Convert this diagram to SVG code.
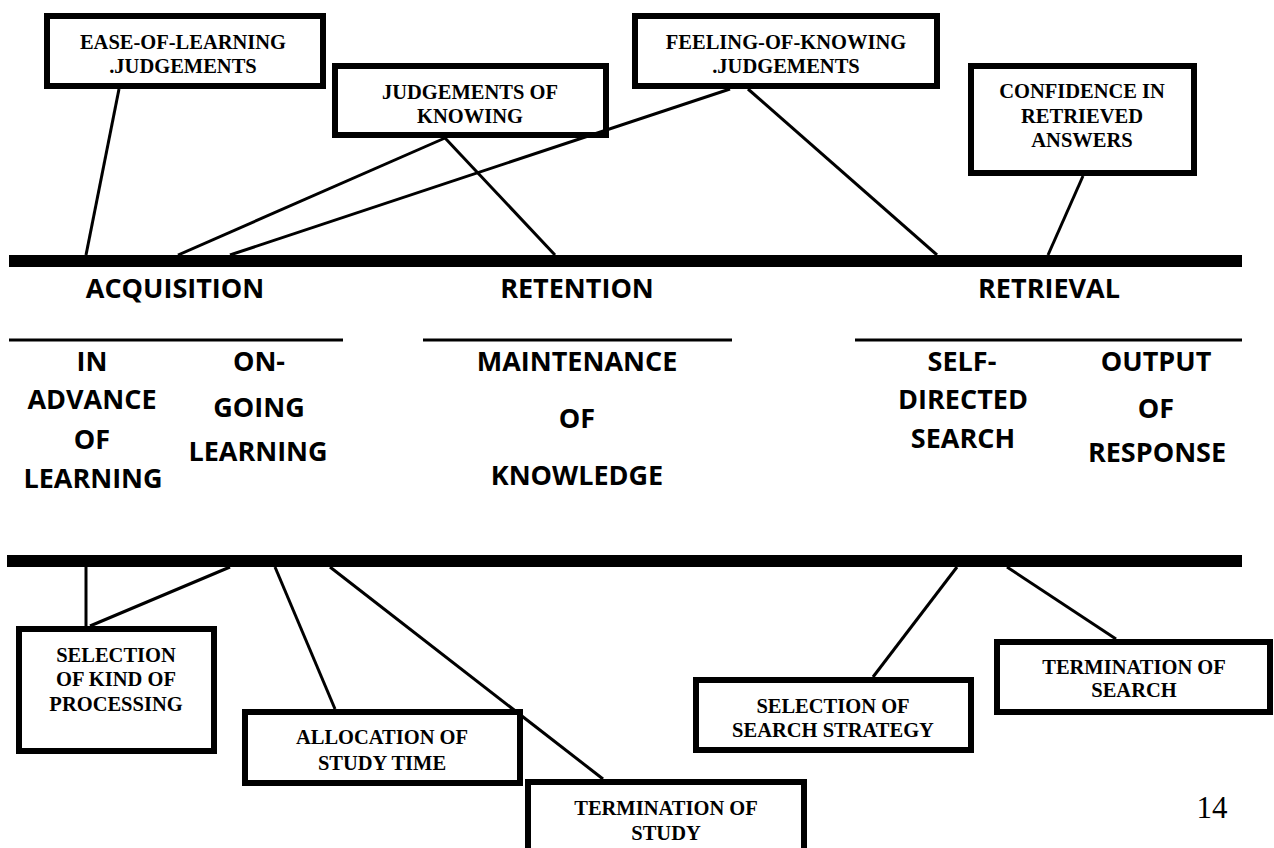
<svg xmlns="http://www.w3.org/2000/svg" width="1274" height="848" viewBox="0 0 1274 848">
<style>
.box{fill:#fff;stroke:#000;stroke-width:6}
.bt{font-family:"Liberation Serif","Times New Roman",serif;font-weight:700;font-size:20.5px;text-anchor:middle;fill:#000}
.lb{font-family:"Open Sans","Noto Sans",sans-serif;font-weight:700;font-size:27px;text-anchor:middle;fill:#000}
.c{stroke:#000;stroke-width:3;fill:none}
.thin{stroke:#000;stroke-width:3}
</style>
<rect width="1274" height="848" fill="#fff"/>
<g id="bars">
<rect x="9" y="255" width="1233" height="12" fill="#000"/>
<rect x="7" y="555" width="1235" height="12" fill="#000"/>
<line class="thin" x1="9" y1="340" x2="343" y2="340"/>
<line class="thin" x1="423" y1="340" x2="732" y2="340"/>
<line class="thin" x1="855" y1="340" x2="1242" y2="340"/>
</g>
<g id="labels">
<text class="lb" x="175" y="298">ACQUISITION</text>
<text class="lb" x="577" y="298">RETENTION</text>
<text class="lb" x="1049" y="298">RETRIEVAL</text>
<text class="lb" x="92" y="371">IN</text>
<text class="lb" x="92" y="409">ADVANCE</text>
<text class="lb" x="92" y="449">OF</text>
<text class="lb" x="93" y="488">LEARNING</text>
<text class="lb" x="259" y="371">ON-</text>
<text class="lb" x="259" y="417">GOING</text>
<text class="lb" x="258" y="461">LEARNING</text>
<text class="lb" x="577" y="371">MAINTENANCE</text>
<text class="lb" x="577" y="428">OF</text>
<text class="lb" x="577" y="485">KNOWLEDGE</text>
<text class="lb" x="962" y="371">SELF-</text>
<text class="lb" x="963" y="409">DIRECTED</text>
<text class="lb" x="963" y="448">SEARCH</text>
<text class="lb" x="1156" y="371">OUTPUT</text>
<text class="lb" x="1156" y="418">OF</text>
<text class="lb" x="1157" y="462">RESPONSE</text>
<text x="1212" y="818" font-family="Liberation Serif, Times New Roman, serif" font-size="31" text-anchor="middle">14</text>
</g>
<g id="n-ease">
<rect class="box" x="47" y="16" width="276" height="70"/>
<text class="bt" x="183" y="49">EASE-OF-LEARNING</text>
<text class="bt" x="183" y="73">.JUDGEMENTS</text>
</g>
<g id="n-jok">
<rect class="box" x="335" y="66" width="271" height="69"/>
<text class="bt" x="470" y="99">JUDGEMENTS OF</text>
<text class="bt" x="470" y="123">KNOWING</text>
</g>
<g id="n-fok">
<rect class="box" x="635" y="16" width="302" height="70"/>
<text class="bt" x="786" y="49">FEELING-OF-KNOWING</text>
<text class="bt" x="786" y="73">.JUDGEMENTS</text>
</g>
<g id="n-conf">
<rect class="box" x="971" y="66" width="223" height="107"/>
<text class="bt" x="1082" y="98">CONFIDENCE IN</text>
<text class="bt" x="1082" y="123">RETRIEVED</text>
<text class="bt" x="1082" y="147">ANSWERS</text>
</g>
<g id="n-kind">
<rect class="box" x="19" y="629" width="195" height="122"/>
<text class="bt" x="116" y="662">SELECTION</text>
<text class="bt" x="116" y="686">OF KIND OF</text>
<text class="bt" x="116" y="711">PROCESSING</text>
</g>
<g id="n-alloc">
<rect class="box" x="245" y="712" width="275" height="71"/>
<text class="bt" x="382" y="744">ALLOCATION OF</text>
<text class="bt" x="382" y="770">STUDY TIME</text>
</g>
<g id="n-termstudy">
<rect class="box" x="528" y="782" width="276" height="80"/>
<text class="bt" x="666" y="815">TERMINATION OF</text>
<text class="bt" x="666" y="840">STUDY</text>
</g>
<g id="n-strategy">
<rect class="box" x="696" y="680" width="275" height="70"/>
<text class="bt" x="833" y="713">SELECTION OF</text>
<text class="bt" x="833" y="737">SEARCH STRATEGY</text>
</g>
<g id="n-termsearch">
<rect class="box" x="997" y="642" width="273" height="70"/>
<text class="bt" x="1134" y="674">TERMINATION OF</text>
<text class="bt" x="1134" y="697">SEARCH</text>
</g>
<g id="connectors">
<line class="c" x1="119" y1="89" x2="86" y2="255"/>
<line class="c" x1="445" y1="138" x2="178" y2="255"/>
<line class="c" x1="445" y1="138" x2="555" y2="255"/>
<line class="c" x1="730" y1="89" x2="230" y2="255"/>
<line class="c" x1="748" y1="89" x2="937" y2="255"/>
<line class="c" x1="1083" y1="176" x2="1048" y2="255"/>
<line class="c" x1="86" y1="567" x2="86" y2="626"/>
<line class="c" x1="90" y1="626" x2="230" y2="567"/>
<line class="c" x1="275" y1="567" x2="335" y2="709"/>
<line class="c" x1="330" y1="567" x2="603" y2="779"/>
<line class="c" x1="873" y1="677" x2="957" y2="567"/>
<line class="c" x1="1007" y1="567" x2="1116" y2="639"/>
</g>
</svg>
